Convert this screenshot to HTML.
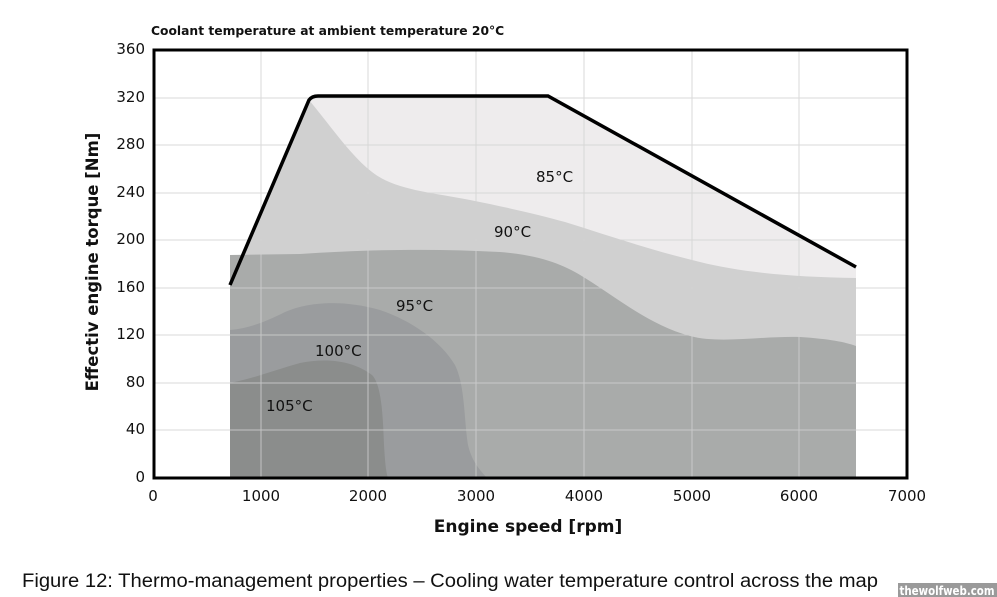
<!DOCTYPE html>
<html><head><style>
body{margin:0;background:#fff;}
svg{display:block;}
text{font-family:"DejaVu Sans","Liberation Sans",sans-serif;}
</style></head><body>
<svg width="997" height="597" viewBox="0 0 997 597" xmlns="http://www.w3.org/2000/svg">
<rect width="997" height="597" fill="#fff"/>
<text x="151" y="35" font-size="12.3" font-weight="bold" fill="#111">Coolant temperature at ambient temperature 20°C</text>
<path d="M230,285 L309,100 Q312,96 318,96 L548,96 L856,267 L856,478 L230,478 Z" fill="#eeeced"/>
<path d="M230,285 L309,100 C330,125 350,155 372,172 C395,190 430,192 470,200 C510,208 540,215 565,222 C610,236 650,250 700,262 C740,272 790,277 856,278 L856,478 L230,478 Z" fill="#d0d0d0"/>
<path d="M230,255 L300,254 C360,250 430,248 500,252 C540,255 565,265 585,278 C620,300 650,325 690,336 C720,344 760,336 800,337 C830,339 845,342 856,346 L856,478 L230,478 Z" fill="#a9abaa"/>
<path d="M230,330 C250,328 265,322 285,312 C310,301 345,300 380,310 C410,320 440,340 455,365 C465,385 464,420 468,445 C472,462 480,470 487,478 L230,478 Z" fill="#9a9c9e"/>
<path d="M230,383 C255,378 275,370 300,363 C330,357 355,362 372,375 C382,385 383,420 384,445 C385,462 386,472 388,478 L230,478 Z" fill="#8b8d8c"/>
<g stroke="#d2d2d2" stroke-width="1" opacity="0.8">
<line x1="261" y1="50" x2="261" y2="478"/><line x1="368" y1="50" x2="368" y2="478"/>
<line x1="476" y1="50" x2="476" y2="478"/><line x1="584" y1="50" x2="584" y2="478"/>
<line x1="692" y1="50" x2="692" y2="478"/><line x1="799" y1="50" x2="799" y2="478"/>
<line x1="153" y1="98" x2="907" y2="98"/><line x1="153" y1="145" x2="907" y2="145"/>
<line x1="153" y1="193" x2="907" y2="193"/><line x1="153" y1="240" x2="907" y2="240"/>
<line x1="153" y1="288" x2="907" y2="288"/><line x1="153" y1="335" x2="907" y2="335"/>
<line x1="153" y1="383" x2="907" y2="383"/><line x1="153" y1="430" x2="907" y2="430"/>
</g>
<path d="M230,285 L309,100 Q312,96 318,96 L548,96 L856,267" fill="none" stroke="#000" stroke-width="3.5"/>
<rect x="154" y="50" width="753" height="428" fill="none" stroke="#000" stroke-width="3"/>
<g font-size="15" fill="#111">
<text x="536" y="182">85°C</text>
<text x="494" y="237">90°C</text>
<text x="396" y="311">95°C</text>
<text x="315" y="356">100°C</text>
<text x="266" y="411">105°C</text>
</g>
<g font-size="15" fill="#111" text-anchor="end">
<text x="145" y="54">360</text><text x="145" y="102">320</text><text x="145" y="149">280</text>
<text x="145" y="197">240</text><text x="145" y="244">200</text><text x="145" y="292">160</text>
<text x="145" y="339">120</text><text x="145" y="387">80</text><text x="145" y="434">40</text>
<text x="145" y="482">0</text>
</g>
<g font-size="15" fill="#111" text-anchor="middle">
<text x="153" y="501">0</text><text x="261" y="501">1000</text><text x="368" y="501">2000</text>
<text x="476" y="501">3000</text><text x="584" y="501">4000</text><text x="692" y="501">5000</text>
<text x="799" y="501">6000</text><text x="907" y="501">7000</text>
</g>
<text x="528" y="532" font-size="17" font-weight="bold" text-anchor="middle" fill="#111">Engine speed [rpm]</text>
<text transform="translate(98,262) rotate(-90)" font-size="16.5" font-weight="bold" text-anchor="middle" fill="#111">Effectiv engine torque [Nm]</text>
<text x="22" y="587" font-size="19" fill="#111" textLength="856" lengthAdjust="spacingAndGlyphs" style="font-family:'Liberation Sans',sans-serif">Figure 12:  Thermo-management properties – Cooling water temperature control across the map</text>
<rect x="898" y="583" width="99" height="14" fill="#9a9a9a"/>
<text x="947" y="595" font-size="12" font-weight="bold" fill="#fff" text-anchor="middle" textLength="95" lengthAdjust="spacingAndGlyphs">thewolfweb.com</text>
</svg>
</body></html>
